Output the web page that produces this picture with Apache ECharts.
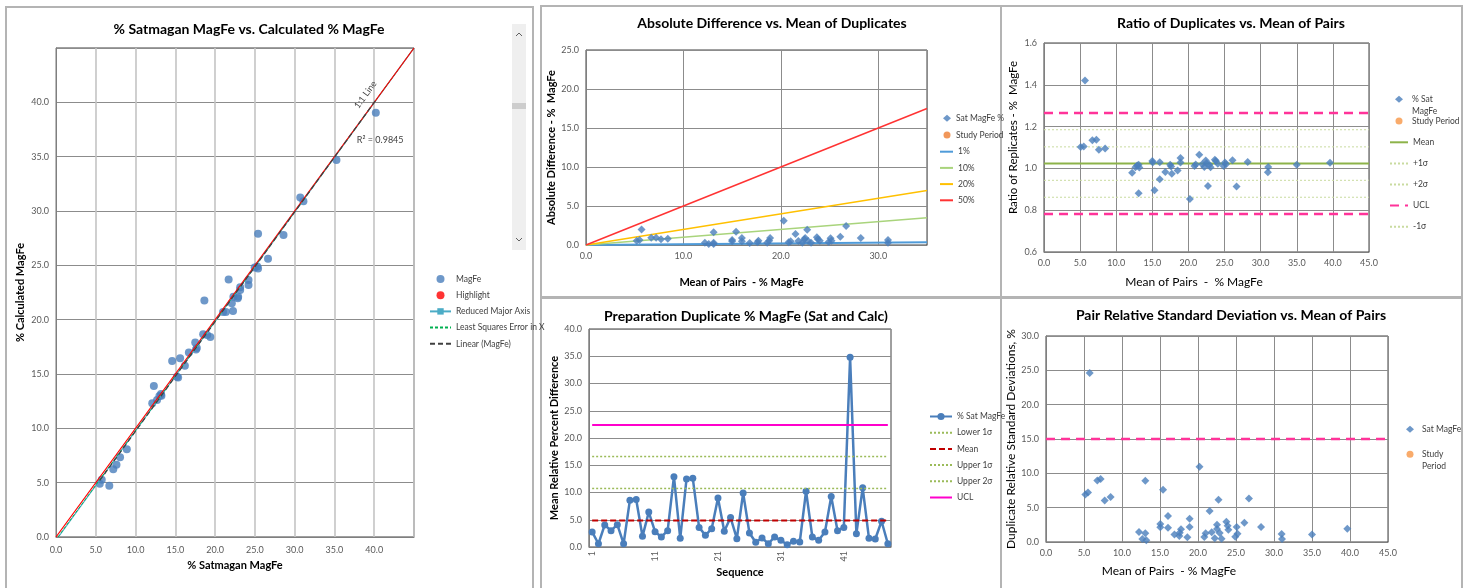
<!DOCTYPE html>
<html>
<head>
<meta charset="utf-8">
<script src="https://cdn.jsdelivr.net/npm/echarts@6/dist/echarts.min.js"></script>
<style>
  html, body { margin: 0; padding: 0; background: #fff; }
  #chart { width: 1468px; height: 588px; }
</style>
</head>
<body>
<div id="chart"></div>
<script>
// ---------- Panel A: Satmagan vs calculated MagFe (%) ----------
const satMagFe  = [40.2, 35.25, 30.7, 31.1, 28.6, 25.4, 26.65, 25.3, 25.4, 24.97, 21.7, 24.2, 24.2, 23.15, 23.15, 22.9,
                   22.3, 18.65, 22.1, 22.25, 21.0, 21.35, 18.5, 19.0, 19.4, 17.5, 17.7, 17.6, 16.7, 15.6, 14.6, 16.2,
                   15.2, 15.35, 12.3, 13.2, 13.0, 12.7, 12.1, 8.9, 8.05, 7.6, 7.2, 6.7, 5.75, 5.5, 22.85, 13.25];
const calcMagFe = [39.05, 34.7, 31.25, 30.9, 27.8, 27.9, 25.6, 24.9, 24.7, 24.8, 23.7, 23.65, 23.2, 22.98, 22.73, 22.1,
                   22.1, 21.77, 21.5, 20.8, 20.7, 20.7, 18.65, 18.6, 18.4, 17.9, 17.4, 17.25, 16.97, 16.45, 16.2, 15.75,
                   14.74, 14.68, 13.9, 13.15, 12.97, 12.6, 12.3, 8.07, 7.34, 6.64, 6.24, 4.71, 5.26, 4.9, 21.98, 13.0];
const oneToOneLine = [[0, 0], [45, 45]];
const rmaLine      = [[0.3, 0], [45, 45]];
const lsxLine      = [[0.25, 0], [45, 45]];
const linearTrend  = [[5.5, 5.2], [40.2, 40.2]];
const rSquared = '0.9845';

// ---------- Panel B: absolute difference vs mean of duplicates ----------
const adMean = [5.2, 5.5, 5.7, 6.7, 7.2, 7.7, 8.4, 12.2, 12.6, 13.1, 13.1, 13.1, 15.0, 15.0, 15.4, 16.0, 16.0, 16.8,
                17.6, 17.7, 18.6, 18.8, 18.9, 20.3, 20.8, 21.0, 21.5, 21.8, 22.2, 22.4, 22.5, 22.7, 22.8, 23.1, 23.7,
                23.8, 24.0, 24.9, 25.1, 25.2, 26.1, 26.7, 28.2, 31.0, 31.0];
const adDiff = [0.56, 0.64, 2.0, 0.94, 0.94, 0.73, 0.81, 0.3, 0.13, 1.62, 0.13, 0.3, 0.47, 0.64, 1.7, 0.9, 0.47, 0.26,
                0.34, 0.56, 0.3, 0.56, 0.9, 3.1, 0.34, 0.47, 1.4, 0.5, 0.3, 0.73, 0.9, 1.97, 0.5, 0.3, 1.0,
                0.73, 0.56, 0.38, 0.85, 0.56, 1.07, 2.43, 0.9, 0.64, 0.3];
const pctLineNames = ['1%', '10%', '20%', '50%'];
const pctLineEndY  = [0.35, 3.5, 7.0, 17.5];   // value of each line at x = 35
const pctLineColors = ['#4f9bd9', '#a9d47c', '#ffc000', '#ff3333'];

// ---------- Panel C: ratio of duplicates vs mean of pairs ----------
const ratioMean = [5.08, 5.5, 5.68, 6.7, 7.25, 7.6, 8.46, 12.2, 12.66, 12.9, 13.1, 13.2, 13.1, 15.0, 15.06, 15.3, 16.03,
                   16.03, 16.8, 17.47, 17.6, 17.7, 18.5, 18.9, 18.9, 20.2, 20.84, 21.0, 21.5, 21.9, 22.2, 22.4, 22.5,
                   22.7, 22.9, 23.06, 23.66, 23.8, 24.07, 24.86, 25.05, 25.2, 26.1, 26.66, 28.2, 31.0, 31.05, 35.0, 39.6];
const ratioVal  = [1.102, 1.105, 1.421, 1.135, 1.137, 1.089, 1.095, 0.979, 1.006, 1.014, 1.018, 1.004, 0.881, 1.035,
                   1.028, 0.896, 1.030, 0.948, 0.983, 1.017, 1.009, 0.974, 0.990, 1.050, 1.028, 0.854, 1.012, 1.019,
                   1.065, 1.020, 1.007, 1.038, 1.025, 0.916, 1.017, 1.006, 1.041, 1.035, 1.022, 1.012, 1.028, 1.020,
                   1.039, 0.913, 1.031, 0.982, 1.007, 1.017, 1.027];
const ratioCtrl = { mean: 1.023, plus1: 1.103, plus2: 1.185, minus1: 0.943, minus2: 0.862, ucl: 1.265, lcl: 0.782 };

// ---------- Panel D: preparation duplicate RPD by sequence ----------
const seqLabels = ['1','2','3','4','5','6','7','8','9','10','11','12','13','14','15','16','17','18','19','20','21','22','23','24',
                   '25','26','27','28','29','30','31','32','33','34','35','36','37','38','39','40','41','42','43','44','45','46','47','48'];
const seqRpd = [2.76, 0.6, 4.05, 3.0, 4.1, 0.6, 8.6, 8.7, 1.96, 6.4, 2.8, 1.84, 3.0, 12.9, 1.6, 12.5, 12.6, 3.6, 2.15, 3.37,
                9.0, 2.9, 5.4, 1.53, 9.9, 2.58, 0.86, 1.66, 0.6, 1.84, 1.23, 0.43, 1.04, 0.92, 10.25, 1.84, 1.23, 2.76,
                9.26, 3.0, 3.6, 34.8, 2.45, 10.86, 1.6, 1.47, 4.72, 0.6];
const seqCtrl = { lower1: -1.0, mean: 4.85, upper1: 10.74, upper2: 16.6, ucl: 22.4 };

// ---------- Panel E: pair RSD vs mean of pairs ----------
const rsdMean = [5.18, 5.53, 5.75, 6.75, 7.19, 7.72, 8.5, 12.24, 12.68, 13.07, 13.07, 13.2, 15.04, 15.04, 15.4, 16.05,
                 16.05, 16.9, 17.54, 17.6, 17.76, 18.6, 18.9, 18.9, 20.2, 20.83, 21.0, 21.53, 21.8, 22.2, 22.5, 22.5,
                 22.7, 22.85, 23.1, 23.73, 23.9, 24.0, 24.9, 25.09, 25.2, 26.1, 26.7, 28.3, 31.0, 31.05, 35.0, 39.65];
const rsdVal  = [6.93, 7.22, 24.6, 8.97, 9.16, 6.06, 6.54, 1.45, 0.44, 1.26, 8.92, 0.24, 2.62, 2.13, 7.61, 3.78,
                 2.08, 1.11, 0.87, 1.36, 1.84, 0.68, 3.39, 2.18, 10.95, 0.73, 1.26, 4.51, 1.41, 0.53, 2.52, 1.89,
                 6.16, 1.31, 0.48, 2.96, 2.38, 1.79, 0.78, 2.18, 1.21, 2.81, 6.35, 2.18, 1.16, 0.44, 1.11, 1.94];
const rsdUcl = 15.0;

// ---------- shared styling ----------
const FONT = 'Lato, "Liberation Sans", sans-serif';
const BLUE = '#4a7ebb';
const ORANGE = '#f79646';
const GRID_LINE = '#8c8c8c';
const fmt1 = v => Number(v).toFixed(1);
const pairs = (xs, ys) => xs.map((x, i) => [x, ys[i]]);

function panelGrid(left, top, width, height) {
  return { left, top, width, height, show: true, borderColor: '#404040', borderWidth: 1, backgroundColor: 'transparent' };
}

function valueAxis(gridIndex, min, max, interval, name, nameGap, opts) {
  opts = opts || {};
  return {
    type: 'value', gridIndex, min, max, interval,
    name, nameLocation: 'middle', nameGap,
    nameTextStyle: Object.assign({ fontFamily: FONT, fontSize: 11, fontWeight: opts.bold ? 'bold' : 'normal', color: '#000' },
                                 opts.nameStyle || {}),
    axisLine: { show: true, lineStyle: { color: '#7f7f7f', width: 1 } },
    axisTick: { show: false },
    splitLine: { show: true, lineStyle: opts.split || { color: GRID_LINE, width: 1 } },
    axisLabel: { color: '#595959', fontSize: 9, fontFamily: FONT, margin: opts.labelMargin || 7,
                 formatter: fmt1, showMaxLabel: opts.showMax !== false, showMinLabel: true },
  };
}

function hLine(name, x0, x1, y, color, width, type, xi, yi) {
  return { type: 'line', name, xAxisIndex: xi, yAxisIndex: yi, data: [[x0, y], [x1, y]],
           symbol: 'none', silent: true, lineStyle: { color, width, type }, itemStyle: { color }, z: 3 };
}

const stripKey = n => n.replace(/^[a-z]+:/, '');
// legend entry for a plain line (no marker drawn on the line sample)
const lineOnly = name => ({ name, itemStyle: { opacity: 0 } });

function legend(left, top, names, itemWidth, itemHeight, itemGap, textPadLeft) {
  return { show: true, orient: 'vertical', left, top, padding: 0, itemWidth, itemHeight, itemGap,
           selectedMode: false, data: names, formatter: stripKey, itemStyle: { borderWidth: 0 },
           textStyle: { fontFamily: FONT, fontSize: 8.5, color: '#404040', padding: [0, 0, 0, textPadLeft || 0] } };
}

const titleStyle = { fontFamily: FONT, fontSize: 14, fontWeight: 'bold', color: '#000' };
function panelTitle(text, cx, cy) {
  return { text, left: cx, top: cy, textAlign: 'center', textVerticalAlign: 'middle', padding: 0, textStyle: titleStyle };
}

const option = {
  animation: false,
  backgroundColor: '#fff',
  title: [
    panelTitle('% Satmagan MagFe vs. Calculated % MagFe', 249, 29),
    panelTitle('Absolute Difference vs. Mean of Duplicates', 772, 23),
    panelTitle('Ratio of Duplicates vs. Mean of Pairs', 1231, 23),
    panelTitle('Preparation Duplicate % MagFe (Sat and Calc)', 746, 316),
    panelTitle('Pair Relative Standard Deviation vs. Mean of Pairs', 1231, 315),
  ],
  grid: [
    panelGrid(56, 48, 358, 489),
    panelGrid(586, 50, 341, 195),
    panelGrid(1044, 43, 325, 209),
    panelGrid(589, 329, 302, 218),
    panelGrid(1046, 336, 342, 206),
  ],
  xAxis: [
    valueAxis(0, 0, 45, 5, '% Satmagan MagFe', 22, { bold: true, showMax: false, labelMargin: 9,
                                                     split: { color: '#c4c4c4', width: 1.6 } }),
    valueAxis(1, 0, 35, 10, 'Mean of Pairs  - % MagFe', 32, { bold: true, showMax: false, nameStyle: { padding: [0, 30, 0, 0] } }),
    valueAxis(2, 0, 45, 5, 'Mean of Pairs  -  % MagFe', 24, { nameStyle: { fontSize: 12, padding: [0, 25, 0, 0] } }),
    { type: 'category', gridIndex: 3, data: seqLabels, boundaryGap: true,
      name: 'Sequence', nameLocation: 'middle', nameGap: 20,
      nameTextStyle: { fontFamily: FONT, fontSize: 11, fontWeight: 'bold', color: '#000' },
      axisLine: { show: true, lineStyle: { color: '#7f7f7f' } }, axisTick: { show: false },
      axisLabel: { interval: 9, rotate: 90, color: '#595959', fontSize: 9, fontFamily: FONT, margin: 4 },
      splitLine: { show: false } },
    valueAxis(4, 0, 45, 5, 'Mean of Pairs  - % MagFe', 23, { nameStyle: { fontSize: 12, padding: [0, 96, 0, 0] } }),
  ],
  yAxis: [
    valueAxis(0, 0, 45, 5, '% Calculated MagFe', 30, { bold: true, showMax: false }),
    valueAxis(1, 0, 25, 5, 'Absolute Difference - %  MagFe', 25, { bold: true }),
    valueAxis(2, 0.6, 1.6, 0.2, 'Ratio of Replicates - %  MagFe', 25, { nameStyle: { fontSize: 11.5, padding: [0, 0, 0, 20] } }),
    valueAxis(3, 0, 40, 5, 'Mean Relative Percent Difference', 22, { bold: true }),
    valueAxis(4, 0, 30, 5, 'Duplicate Relative Standard Deviations, %', 27, { nameStyle: { fontSize: 12 } }),
  ],
  legend: [
    // panel A
    legend(429, 274.5, ['a:MagFe', 'a:Highlight', 'a:Reduced Major Axis',
                        lineOnly('a:Least Squares Error in X'), lineOnly('a:Linear (MagFe)')], 21, 8, 7.2),
    // panel B: marker entries, then line entries
    legend(943, 113.8, ['b:Sat MagFe %', 'b:Study Period'], 8, 7, 7.7),
    legend(939, 147.2, [lineOnly('b:1%'), lineOnly('b:10%'), lineOnly('b:20%'), lineOnly('b:50%')], 13, 7, 7.2),
    // panel C
    legend(1395, 94.8, ['c:% Sat', 'c:Study Period'], 8, 7, 12.7, 4),
    legend(1389, 137.8, [lineOnly('c:Mean'), lineOnly('c:+1σ'), lineOnly('c:+2σ'), lineOnly('c:UCL'), lineOnly('c:-1σ')], 18, 7, 12.1),
    // panel D
    legend(929, 412, ['d:% Sat MagFe', lineOnly('d:Lower 1σ'), lineOnly('d:Mean'), lineOnly('d:Upper 1σ'),
                      lineOnly('d:Upper 2σ'), lineOnly('d:UCL')], 22, 9, 7.2),
    // panel E
    legend(1406, 424.8, ['e:Sat MagFe', 'e:Study'], 8, 7, 16, 3),
  ],
  series: [
    // ----- A -----
    { type: 'scatter', name: 'a:MagFe', xAxisIndex: 0, yAxisIndex: 0, data: pairs(satMagFe, calcMagFe),
      symbol: 'circle', symbolSize: 8, itemStyle: { color: BLUE }, z: 2 },
    { type: 'scatter', name: 'a:Highlight', xAxisIndex: 0, yAxisIndex: 0, data: [],
      symbol: 'circle', symbolSize: 8, itemStyle: { color: '#ff0000', borderColor: '#ffc000', borderWidth: 1 } },
    { type: 'line', name: 'a:Reduced Major Axis', xAxisIndex: 0, yAxisIndex: 0, data: rmaLine,
      symbol: 'rect', symbolSize: 4, showSymbol: false, lineStyle: { color: '#4bacc6', width: 1.25 }, itemStyle: { color: '#4bacc6' }, z: 3 },
    { type: 'line', name: 'a:Least Squares Error in X', xAxisIndex: 0, yAxisIndex: 0, data: lsxLine,
      symbol: 'none', lineStyle: { color: '#00b050', width: 1, type: [3, 2] }, itemStyle: { color: '#00b050' }, z: 3 },
    { type: 'line', name: 'a:1:1 Line', xAxisIndex: 0, yAxisIndex: 0, data: oneToOneLine,
      symbol: 'none', lineStyle: { color: '#ff0000', width: 1.25 }, itemStyle: { color: '#ff0000' }, z: 4 },
    { type: 'line', name: 'a:Linear (MagFe)', xAxisIndex: 0, yAxisIndex: 0, data: linearTrend,
      symbol: 'none', lineStyle: { color: '#404040', width: 1.25, type: [5, 3] }, itemStyle: { color: '#404040' }, z: 5 },

    // ----- B -----
    ...pctLineNames.map((n, i) => ({
      type: 'line', name: 'b:' + n, xAxisIndex: 1, yAxisIndex: 1, data: [[0, 0], [35, pctLineEndY[i]]],
      symbol: 'none', lineStyle: { color: pctLineColors[i], width: i === 0 ? 2 : 1.5 }, itemStyle: { color: pctLineColors[i] }, z: 2 })),
    { type: 'scatter', name: 'b:Sat MagFe %', xAxisIndex: 1, yAxisIndex: 1, data: pairs(adMean, adDiff),
      symbol: 'diamond', symbolSize: 8, itemStyle: { color: BLUE }, z: 4 },
    { type: 'scatter', name: 'b:Study Period', xAxisIndex: 1, yAxisIndex: 1, data: [],
      symbol: 'circle', itemStyle: { color: '#ed7d31' } },

    // ----- C -----
    hLine('c:+2σ', 0, 45, ratioCtrl.plus2, '#c9dba0', 1, [2, 2], 2, 2),
    hLine('c:+1σ', 0, 45, ratioCtrl.plus1, '#c9dba0', 1, [2, 2], 2, 2),
    hLine('c:-1σ', 0, 45, ratioCtrl.minus1, '#c9dba0', 1, [2, 2], 2, 2),
    hLine('c:-2σ', 0, 45, ratioCtrl.minus2, '#c9dba0', 1, [2, 2], 2, 2),
    hLine('c:Mean', 0, 45, ratioCtrl.mean, '#8db34a', 2, 'solid', 2, 2),
    hLine('c:UCL', 0, 45, ratioCtrl.ucl, '#ff3399', 2.5, [9, 6], 2, 2),
    hLine('c:LCL', 0, 45, ratioCtrl.lcl, '#ff3399', 2.5, [9, 6], 2, 2),
    { type: 'scatter', name: 'c:% Sat', xAxisIndex: 2, yAxisIndex: 2, data: pairs(ratioMean, ratioVal),
      symbol: 'diamond', symbolSize: 8, itemStyle: { color: BLUE }, z: 4 },
    { type: 'scatter', name: 'c:Study Period', xAxisIndex: 2, yAxisIndex: 2, data: [],
      symbol: 'circle', itemStyle: { color: ORANGE } },

    // ----- D -----
    { type: 'line', name: 'd:% Sat MagFe', xAxisIndex: 3, yAxisIndex: 3, data: seqRpd,
      symbol: 'circle', symbolSize: 7, showAllSymbol: true, lineStyle: { color: BLUE, width: 2.5 }, itemStyle: { color: BLUE }, z: 2 },
    hLine('d:Lower 1σ', 0, 47, seqCtrl.lower1, '#9bbb59', 1.5, [2, 2], 3, 3),
    hLine('d:Upper 2σ', 0, 47, seqCtrl.upper2, '#9bbb59', 1.5, [2, 2], 3, 3),
    hLine('d:Upper 1σ', 0, 47, seqCtrl.upper1, '#9bbb59', 1.5, [2, 2], 3, 3),
    hLine('d:Mean', 0, 47, seqCtrl.mean, '#c00000', 2, [6, 3], 3, 3),
    hLine('d:UCL', 0, 47, seqCtrl.ucl, '#ff00cc', 2, 'solid', 3, 3),

    // ----- E -----
    hLine('e:UCL', 0, 45, rsdUcl, '#ff3399', 2.5, [9, 6], 4, 4),
    { type: 'scatter', name: 'e:Sat MagFe', xAxisIndex: 4, yAxisIndex: 4, data: pairs(rsdMean, rsdVal),
      symbol: 'diamond', symbolSize: 8, itemStyle: { color: BLUE }, z: 4 },
    { type: 'scatter', name: 'e:Study', xAxisIndex: 4, yAxisIndex: 4, data: [],
      symbol: 'circle', itemStyle: { color: ORANGE } },
  ],
};

const chart = echarts.init(document.getElementById('chart'), null, { renderer: 'canvas' });
chart.setOption(option);

// Panel frames, the scroll bar beside panel A, and text annotations placed from data coordinates
const lblOneToOne = chart.convertToPixel({ gridIndex: 0 }, [38.9, 40.7]);
const lblR2 = chart.convertToPixel({ gridIndex: 0 }, [40.75, 36.5]);
const frame = (x, y, w, h) => ({ type: 'rect', shape: { x, y, width: w, height: h }, silent: true, z: -10,
                                 style: { fill: 'none', stroke: '#b4b4b4', lineWidth: 2 } });
const note = (x, y, text, extra) => ({ type: 'text', x, y, silent: true, z: 20,
  style: Object.assign({ text, fontFamily: FONT, fontSize: 9, fill: '#404040', align: 'center', verticalAlign: 'middle' }, extra || {}) });

chart.setOption({
  graphic: { elements: [
    frame(6, 7, 527, 590),
    frame(541, 6, 460, 291),
    frame(1001, 6, 461, 291),
    frame(541, 298, 460, 300),
    frame(1001, 298, 461, 300),
    // scroll bar
    { type: 'rect', shape: { x: 512, y: 24, width: 14, height: 226 }, silent: true, style: { fill: '#efefef' } },
    { type: 'rect', shape: { x: 512, y: 103, width: 14, height: 6 }, silent: true, style: { fill: '#cdcdcd' } },
    { type: 'polyline', shape: { points: [[516, 36], [519, 33], [522, 36]] }, silent: true, style: { stroke: '#606060', lineWidth: 1, fill: 'none' } },
    { type: 'polyline', shape: { points: [[516, 238], [519, 241], [522, 238]] }, silent: true, style: { stroke: '#606060', lineWidth: 1, fill: 'none' } },
    // annotations
    Object.assign(note(lblOneToOne[0], lblOneToOne[1], '1:1 Line'), { rotation: 54 * Math.PI / 180 }),
    note(lblR2[0], lblR2[1], 'R\u00b2 = ' + rSquared),
    // second lines of wrapped legend entries
    note(1412, 111, 'MagFe', { align: 'left', fontSize: 8.5 }),
    note(1422, 466, 'Period', { align: 'left', fontSize: 8.5 }),
  ] }
});
</script>
</body>
</html>
